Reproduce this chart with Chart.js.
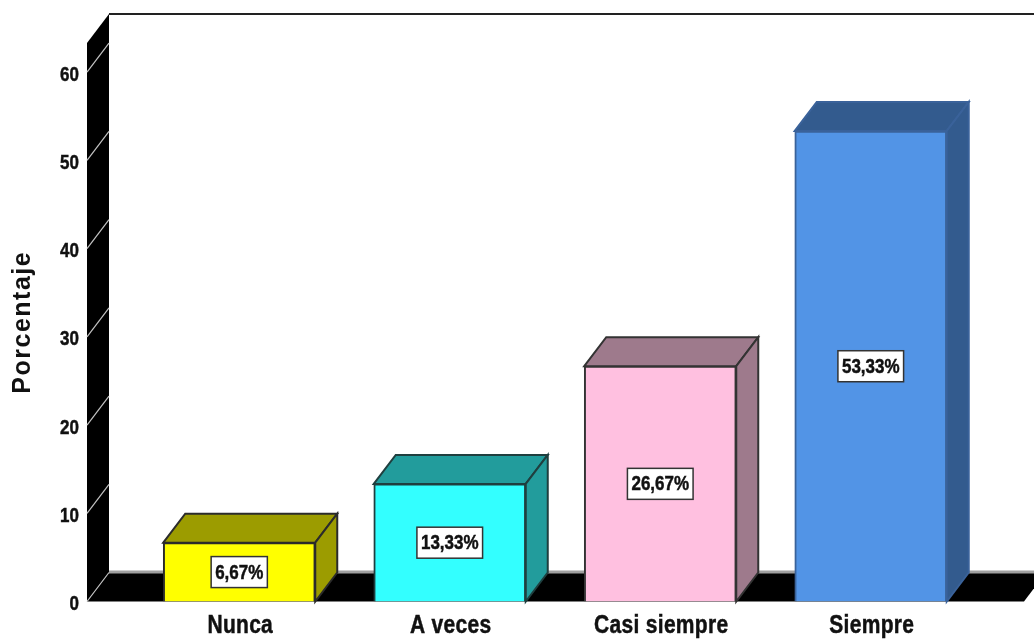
<!DOCTYPE html>
<html lang="en">
<head>
    <meta charset="UTF-8">
    <title>Porcentaje</title>
    <script src="https://cdn.jsdelivr.net/npm/chart.js"></script>
    <style>
        html, body { margin: 0; padding: 0; background: #ffffff; }
        #wrap { width: 1034px; height: 639px; }
        canvas { display: block; }
    </style>
</head>
<body>
    <div id="wrap"><canvas id="chart" width="1034" height="639"></canvas></div>

    <script>
        const categories = ['Nunca', 'A veces', 'Casi siempre', 'Siempre'];
        const percentages = [6.67, 13.33, 26.67, 53.33];
        const yTicks = [0, 10, 20, 30, 40, 50, 60];
        const frontColors = ['#ffff00', '#33ffff', '#ffc0e0', '#5294e6'];
        const sideColors = ['#9c9c00', '#229c9c', '#9e7a8c', '#335b8e'];
        const edgeColors = ['#2b2b2b', '#1f3f3f', '#333333', '#3a629a'];

        // 3D depth of the chart box, in pixels
        const depthX = 22;
        const depthY = 29;
        const axisTopValue = 63.3;
        const labelFont = '"Liberation Sans", sans-serif';

        function poly(ctx, pts, fill, stroke, lineWidth) {
            ctx.beginPath();
            pts.forEach((p, i) => i ? ctx.lineTo(p[0], p[1]) : ctx.moveTo(p[0], p[1]));
            ctx.closePath();
            if (fill) { ctx.fillStyle = fill; ctx.fill(); }
            if (stroke) { ctx.strokeStyle = stroke; ctx.lineWidth = lineWidth || 1; ctx.stroke(); }
        }

        // the labels in the original are heavy bold Arial stretched upwards
        function tallText(ctx, text, x, y, size, align, spacing) {
            ctx.save();
            ctx.translate(x, y);
            ctx.scale(1, 1.2);
            ctx.font = 'bold ' + size + 'px ' + labelFont;
            ctx.letterSpacing = (spacing || 0) + 'px';
            ctx.textAlign = align;
            ctx.textBaseline = 'middle';
            ctx.fillStyle = '#111111';
            ctx.strokeStyle = '#111111';
            ctx.lineWidth = 0.4;
            ctx.fillText(text, 0, 0);
            ctx.strokeText(text, 0, 0);
            ctx.restore();
        }

        // walls, floor and the slanted grid marks behind the bars
        const boxPlugin = {
            id: 'box3d',
            beforeDraw(chart) {
                // spaced out axis title
                chart.ctx.letterSpacing = '1.5px';
            },
            beforeDatasetsDraw(chart) {
                const ctx = chart.ctx;
                const y = chart.scales.y;
                const left = 87;
                const base = y.getPixelForValue(0);
                const top = y.getPixelForValue(axisTopValue);
                const right = 1024;
                ctx.letterSpacing = '0px';
                ctx.save();

                // floor, with its lighter back edge
                poly(ctx, [[left, base], [left + depthX, base - depthY], [right + depthX, base - depthY], [right, base]], '#000000');
                ctx.fillStyle = '#a0a0a0';
                ctx.fillRect(left + depthX, base - depthY - 2, 1034 - left - depthX, 3);

                // left wall
                poly(ctx, [[left, base], [left, top], [left + depthX, top - depthY], [left + depthX, base - depthY]], '#000000');

                // top edge of the back wall
                ctx.fillStyle = '#222222';
                ctx.fillRect(left + depthX, top - depthY - 1, 1034 - left - depthX, 2);

                // grid marks across the wall
                ctx.strokeStyle = '#c4c4c4';
                ctx.lineWidth = 1.2;
                yTicks.forEach(v => {
                    const py = y.getPixelForValue(v);
                    ctx.beginPath();
                    ctx.moveTo(left, py);
                    ctx.lineTo(left + depthX, py - depthY);
                    ctx.stroke();
                });

                // top and side face of each bar
                chart.getDatasetMeta(0).data.forEach((bar, i) => {
                    const half = bar.width / 2;
                    const l = bar.x - half;
                    const r = bar.x + half;
                    const edge = edgeColors[i];
                    poly(ctx, [[l, bar.y], [l + depthX, bar.y - depthY], [r + depthX, bar.y - depthY], [r, bar.y]], sideColors[i], edge, 2);
                    poly(ctx, [[r, bar.y], [r + depthX, bar.y - depthY], [r + depthX, bar.base - depthY], [r, bar.base]], sideColors[i], edge, 2);
                });
                ctx.restore();
            },
            afterDatasetsDraw(chart) {
                // boxed percentage in the middle of each bar
                const ctx = chart.ctx;
                ctx.save();
                ctx.font = 'bold 17px ' + labelFont;
                chart.getDatasetMeta(0).data.forEach((bar, i) => {
                    const text = percentages[i].toFixed(2).replace('.', ',') + '%';
                    const cy = (bar.y + bar.base) / 2;
                    const w = ctx.measureText(text).width + 8;
                    const h = 31;
                    ctx.fillStyle = '#ffffff';
                    ctx.fillRect(bar.x - w / 2, cy - h / 2, w, h);
                    ctx.strokeStyle = '#333333';
                    ctx.lineWidth = 1.5;
                    ctx.strokeRect(bar.x - w / 2, cy - h / 2, w, h);
                    tallText(ctx, text, bar.x, cy + 1, 17, 'center');
                });
                ctx.restore();

                // axis tick labels, placed from the scales
                const xs = chart.scales.x;
                const ys = chart.scales.y;
                xs.ticks.forEach((t, i) => tallText(ctx, t.label, xs.getPixelForTick(i) + 1, 626, 21, 'center', 0.3));
                ys.ticks.forEach((t, i) => tallText(ctx, t.label, 79, ys.getPixelForTick(i) + 3, 17, 'right'));
            }
        };

        new Chart(document.getElementById('chart').getContext('2d'), {
            type: 'bar',
            data: {
                labels: categories,
                datasets: [{
                    data: percentages,
                    backgroundColor: frontColors,
                    borderColor: edgeColors,
                    borderWidth: 2,
                    barThickness: 152
                }]
            },
            options: {
                responsive: false,
                maintainAspectRatio: false,
                animation: false,
                layout: { padding: { top: 43, right: 58, left: 0, bottom: 0 } },
                plugins: { legend: { display: false }, tooltip: { enabled: false } },
                scales: {
                    x: {
                        grid: { display: false },
                        border: { display: false },
                        ticks: {
                            color: 'transparent',
                            maxRotation: 0,
                            font: { family: labelFont, size: 20, weight: 'bold' }
                        },
                        afterFit(scale) { scale.height = 37.5; }
                    },
                    y: {
                        min: 0,
                        max: axisTopValue,
                        grid: { display: false },
                        border: { display: false },
                        afterBuildTicks(scale) { scale.ticks = yTicks.map(v => ({ value: v })); },
                        ticks: {
                            color: 'transparent',
                            callback: v => String(v),
                            font: { family: labelFont, size: 17, weight: 'bold' }
                        },
                        title: {
                            display: true,
                            text: 'Porcentaje',
                            color: '#111111',
                            padding: { top: 8, bottom: 0 },
                            font: { family: labelFont, size: 25, weight: 'bold' }
                        },
                        afterFit(scale) { scale.width = 134; }
                    }
                }
            },
            plugins: [boxPlugin]
        });
    </script>
</body>
</html>
